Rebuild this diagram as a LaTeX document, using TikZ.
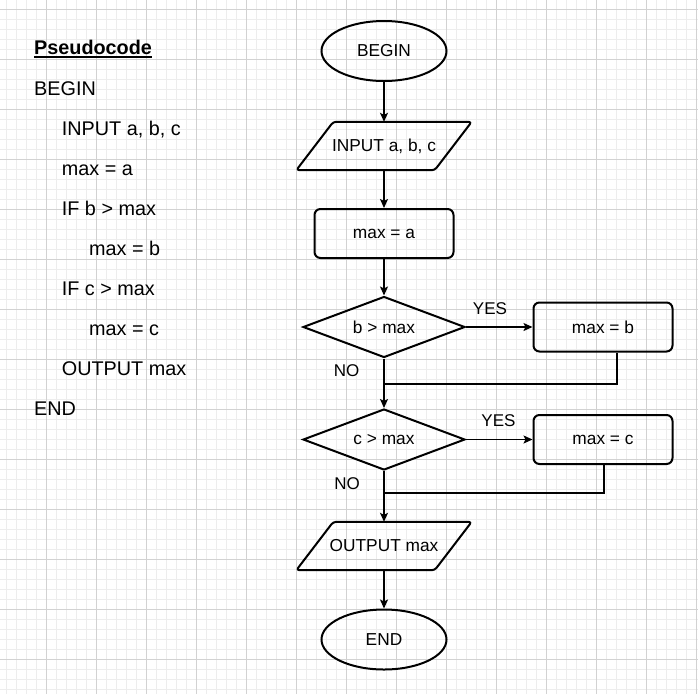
\documentclass[tikz,border=0pt]{standalone}
\usepackage{fontspec}
\setmainfont{Liberation Sans}
\usetikzlibrary{shapes.geometric,arrows.meta}
\begin{document}
\begin{tikzpicture}[x=1pt,y=-1pt,
  flow/.style={font=\fontsize{17.3}{20}\selectfont, inner sep=0pt},
  term/.style={flow, ellipse, draw, line width=2pt, minimum width=125pt, minimum height=60pt},
  proc/.style={flow, rectangle, rounded corners=6pt, draw, line width=2pt, minimum width=139pt, minimum height=49pt},
  dec/.style={flow, diamond, aspect=2.6, draw, line width=2pt, minimum width=162pt, minimum height=61pt},
  io/.style={flow, rectangle, minimum width=175pt, minimum height=48pt},
  ioshape/.style={line width=2pt, rounded corners=3pt, line join=round},
  conn/.style={line width=1.3pt, -{Stealth[length=9pt,width=8pt,inset=2pt]}},
  back/.style={line width=1.3pt},
  lab/.style={font=\fontsize{17}{20}\selectfont, inner sep=0pt},
  code/.style={font=\fontsize{19.8}{24}\selectfont, inner sep=0pt, anchor=base west},
  minorgrid/.style={line width=1pt, gray!14},
  majorgrid/.style={line width=1pt, gray!35}]
% background and grid
\fill[white] (0,0) rectangle (698,694);
\useasboundingbox (0,0) rectangle (698,694);
\foreach \x in {6,16,...,696} \draw[minorgrid] (\x,0) -- (\x,694);
\foreach \y in {9,19,...,689} \draw[minorgrid] (0,\y) -- (698,\y);
\foreach \x in {46,96,...,696} \draw[majorgrid] (\x,0) -- (\x,694);
\foreach \y in {9,59,...,659} \draw[majorgrid] (0,\y) -- (698,\y);

% pseudocode
\node[code, font=\fontsize{19.8}{24}\selectfont\bfseries] (pc) at (34,54.3) {Pseudocode};
\draw[line width=1.8pt] ([yshift=-3pt]pc.base west) -- ([yshift=-3pt]pc.base east);
\node[code] (c1) at (34,95) {BEGIN};
\node[code] (c2) at (61.7,135) {INPUT a, b, c};
\node[code] (c3) at (61.7,175) {max = a};
\node[code] (c4) at (61.7,215) {IF b > max};
\node[code] (c5) at (89,255) {max = b};
\node[code] (c6) at (61.7,295) {IF c > max};
\node[code] (c7) at (89,335) {max = c};
\node[code] (c8) at (61.7,375) {OUTPUT max};
\node[code] (c9) at (34,415) {END};

% flowchart
\node[term] (begin) at (384,51) {BEGIN};
\node[io] (in) at (384,146) {INPUT a, b, c};
\draw[ioshape] ([xshift=37pt]in.north west) -- (in.north east) -- ([xshift=-37pt]in.south east) -- (in.south west) -- cycle;
\node[proc] (maxa) at (384,233.5) {max = a};
\node[dec] (d1) at (384,327) {b > max};
\node[proc] (mb) at (603,327) {max = b};
\node[dec] (d2) at (384,439.5) {c > max};
\node[proc] (mc) at (603,439.5) {max = c};
\node[io] (out) at (384,546) {OUTPUT max};
\draw[ioshape] ([xshift=37pt]out.north west) -- (out.north east) -- ([xshift=-37pt]out.south east) -- (out.south west) -- cycle;
\node[term] (end) at (384,639.5) {END};

\coordinate (j1) at (384,384);
\coordinate (j2) at (384,493);

\draw[conn] (begin) -- (in);
\draw[conn] (in) -- (maxa);
\draw[conn] (maxa) -- (d1);
\draw[conn] (d1) -- (mb);
\draw[conn] (d1) -- (d2);
\draw[conn] (d2) -- (mc);
\draw[conn] (d2) -- (out);
\draw[conn] (out) -- (end);
\draw[back] ([xshift=14pt]mb.south) |- (j1);
\draw[back] ([xshift=1pt]mc.south) |- (j2);

\node[lab] (yes1) at (490,309) {YES};
\node[lab] (no1) at (346.7,371) {NO};
\node[lab] (yes2) at (498.5,421) {YES};
\node[lab] (no2) at (347,483.5) {NO};
\end{tikzpicture}
\end{document}
